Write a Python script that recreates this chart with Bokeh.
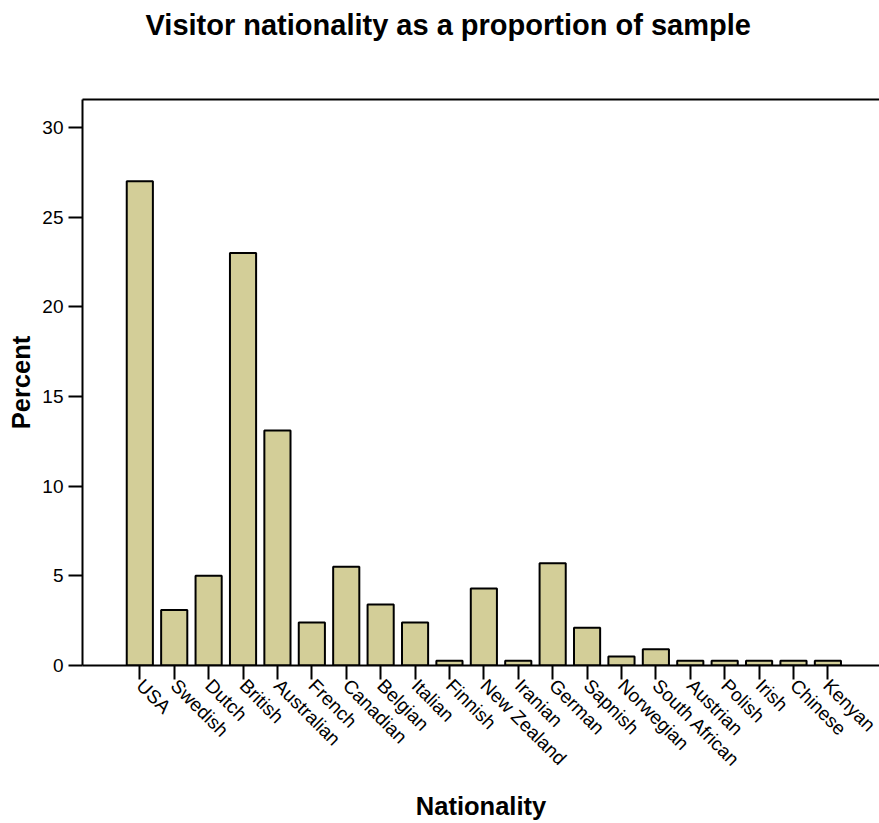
import math
from bokeh.plotting import figure
from bokeh.models import LinearAxis, FixedTicker, Range1d, ColumnDataSource
from bokeh.embed import file_html
from bokeh.resources import INLINE

# ---- data ----
categories = ["USA", "Swedish", "Dutch", "British", "Australian", "French",
              "Canadian", "Belgian", "Italian", "Finnish", "New Zealand",
              "Iranian", "German", "Sapnish", "Norwegian", "South African",
              "Austrian", "Polish", "Irish", "Chinese", "Kenyan"]
percent = [27.0, 3.1, 5.0, 23.0, 13.1, 2.4, 5.5, 3.4, 2.4, 0.26, 4.3,
           0.26, 5.7, 2.1, 0.5, 0.9, 0.26, 0.26, 0.26, 0.26, 0.26]
y_ticks = [0, 5, 10, 15, 20, 25, 30]
title_text = "Visitor nationality as a proportion of sample"
x_title = "Nationality"
y_title = "Percent"

positions = list(range(len(categories)))
source = ColumnDataSource(dict(x=positions, top=percent, name=categories))

FONT = "Liberation Sans"

p = figure(frame_width=797, frame_height=566,
           x_range=Range1d(-1.666, 21.5), y_range=Range1d(0, 31.56),
           output_backend="svg", toolbar_location=None,
           min_border_left=82, min_border_top=99,
           min_border_right=0, min_border_bottom=158,
           x_axis_type=None, y_axis_type=None)
p.outline_line_color = None
p.xgrid.visible = False
p.ygrid.visible = False
p.background_fill_color = "white"
p.border_fill_color = "white"

p.vbar(x="x", top="top", bottom=0, width=0.76, source=source,
       fill_color="#D3CE98", line_color="black", line_width=2)

# bottom axis
xaxis = LinearAxis(ticker=FixedTicker(ticks=positions),
                   major_label_overrides={i: c for i, c in enumerate(categories)})
xaxis.major_label_orientation = -math.pi / 4
xaxis.major_tick_in = 0
xaxis.major_tick_out = 14
xaxis.minor_tick_line_color = None
xaxis.axis_line_width = 2
xaxis.major_tick_line_width = 2
xaxis.major_label_text_font = FONT
xaxis.major_label_text_font_size = "19px"
xaxis.major_label_text_color = "black"
xaxis.major_label_standoff = 3
xaxis.axis_label = x_title
xaxis.axis_label_text_font = FONT
xaxis.axis_label_text_font_size = "25.5px"
xaxis.axis_label_text_font_style = "bold"
xaxis.axis_label_text_color = "black"
xaxis.axis_label_standoff = 11
p.add_layout(xaxis, "below")

# left axis
yaxis = LinearAxis(ticker=FixedTicker(ticks=y_ticks))
yaxis.major_tick_in = 0
yaxis.major_tick_out = 14
yaxis.minor_tick_line_color = None
yaxis.axis_line_width = 2
yaxis.major_tick_line_width = 2
yaxis.major_label_text_font = FONT
yaxis.major_label_text_font_size = "19px"
yaxis.major_label_text_color = "black"
yaxis.major_label_standoff = 5
yaxis.axis_label = y_title
yaxis.axis_label_text_font = FONT
yaxis.axis_label_text_font_size = "25.5px"
yaxis.axis_label_text_font_style = "bold"
yaxis.axis_label_text_color = "black"
yaxis.axis_label_standoff = 4
p.add_layout(yaxis, "left")

# top frame line; a blank 1px axis label reserves room under the title
top_axis = LinearAxis(ticker=FixedTicker(ticks=[]))
top_axis.axis_line_width = 2
top_axis.major_tick_in = 0
top_axis.major_tick_out = 0
top_axis.major_tick_line_color = None
top_axis.minor_tick_line_color = None
top_axis.axis_label = " "
top_axis.axis_label_text_font_size = "1px"
top_axis.axis_label_standoff = 50
p.add_layout(top_axis, "above")

# title
p.title.text = title_text
p.title.align = "left"
p.title.vertical_align = "bottom"
p.title.text_font = FONT
p.title.text_font_size = "29px"
p.title.text_font_style = "bold"
p.title.text_color = "black"
p.title.offset = 63
p.title.standoff = 10

open("out.html", "w").write(file_html(p, INLINE))
